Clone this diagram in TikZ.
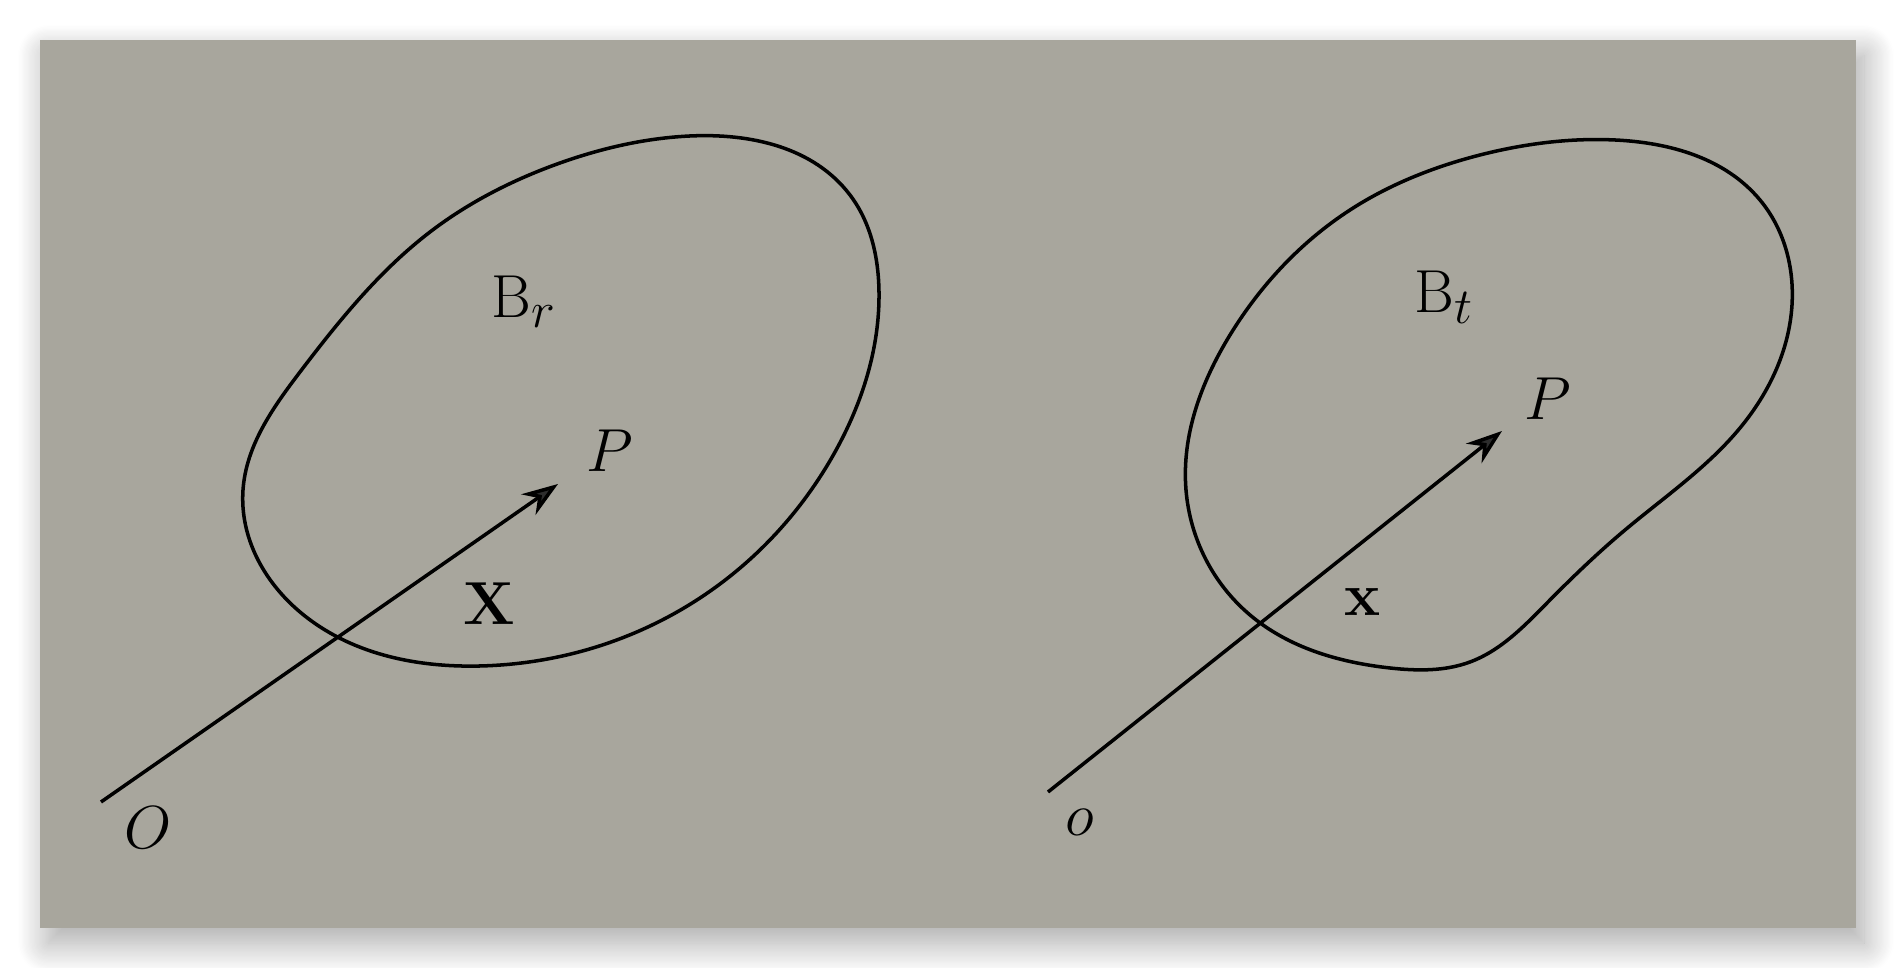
\documentclass[tikz,border=0pt]{standalone}
\usepackage{amsmath, amssymb}
\usepackage{xcolor}
\usetikzlibrary{arrows.meta, shadows.blur, hobby}
\definecolor{paper}{RGB}{168,166,157}

\begin{document}
\begin{tikzpicture}[
  x=0.01cm, y=-0.01cm,
  blob/.style={line width=1pt, draw=black, use Hobby shortcut, closed=true},
  arr/.style={-{Stealth[length=3.6mm, width=2.5mm]}, line width=1pt},
  lbl/.style={inner sep=0pt, font=\fontsize{19}{23}\selectfont}
]
\useasboundingbox (0,0) rectangle (1896,968);
\fill[paper, blur shadow={shadow xshift=0.8mm, shadow yshift=-1.5mm, shadow blur radius=3mm, shadow blur steps=25, shadow opacity=35}] (40,40) rectangle (1856,928);

% reference body
\draw[blob] (690,136) .. (850,195) .. (879,292) .. (835,452) .. (700,598)
  .. (480,666) .. (300,612) .. (243,490) .. (300,372) .. (430,232) .. (560,163);
\node[lbl, anchor=base west] (br) at (491,318) {$\mathrm{B}_r$};
\node[lbl] (pl) at (610,451) {$P$};
\node[lbl] (xl) at (489,604) {$\mathbf{X}$};
\node[lbl] (ol) at (148,828) {$O$};
\coordinate (oL) at (101,802);
\coordinate (tL) at (558,484);
\draw[arr] (oL) -- (tL);

% current body
\draw[blob] (1615,140) .. (1760,200) .. (1792,305) .. (1740,428) .. (1625,530)
  .. (1548,602) .. (1470,662) .. (1390,668) .. (1250,615) .. (1186,490)
  .. (1230,335) .. (1350,210) .. (1480,155);
\node[lbl, anchor=base west] (bt) at (1414,313) {$\mathrm{B}_t$};
\node[lbl] (pr) at (1548,399) {$P$};
\node[lbl] (xr) at (1363,602) {$\mathbf{x}$};
\node[lbl] (or) at (1080,822) {$o$};
\coordinate (oR) at (1048,792);
\coordinate (tR) at (1502,431);
\draw[arr] (oR) -- (tR);
\end{tikzpicture}
\end{document}
